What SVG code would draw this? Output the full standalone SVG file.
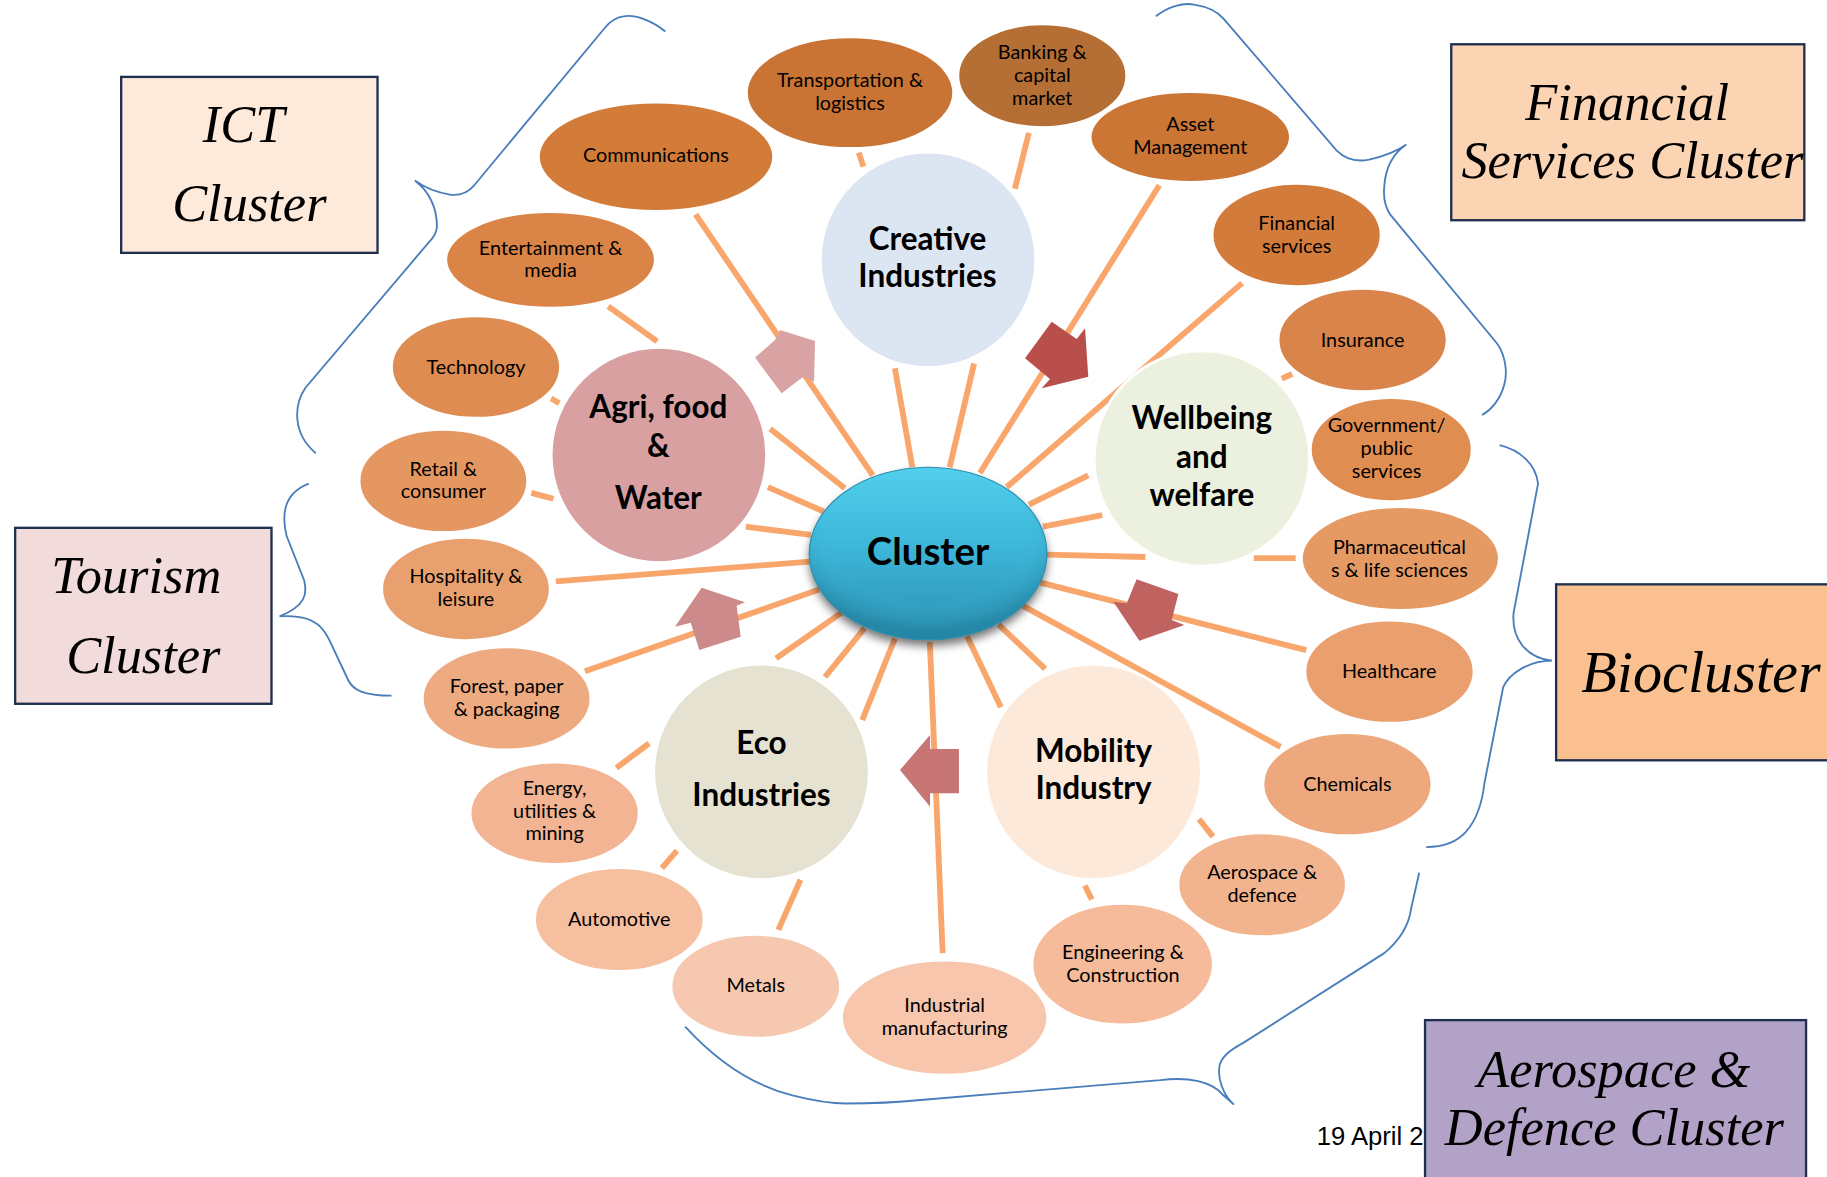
<svg xmlns="http://www.w3.org/2000/svg" width="1827" height="1177" viewBox="0 0 1827 1177">
<defs>
<style>
.box{stroke:#1F2F4F;stroke-width:2}
.bt{font-family:"Liberation Serif",serif;font-style:italic;font-size:45px;fill:#000;text-anchor:middle}
.n{stroke:#fff;stroke-width:2.5}
.t{font-family:Lato,"Liberation Sans",sans-serif;font-size:17px;fill:#000;text-anchor:middle}
.ct{font-family:Lato,"Liberation Sans",sans-serif;font-weight:bold;font-size:27px;fill:#000;text-anchor:middle}
.ln{stroke:#F9A66C;stroke-width:5;fill:none;stroke-linecap:butt}
.br{stroke:#4A7EBB;stroke-width:1.6;fill:none}
</style>
<linearGradient id="cg" x1="0" y1="0" x2="0" y2="1">
<stop offset="0" stop-color="#52CFEC"/>
<stop offset="0.45" stop-color="#3DB7DA"/>
<stop offset="1" stop-color="#2B90B1"/>
</linearGradient>
<radialGradient id="cg2" cx="0.5" cy="0.35" r="0.6">
<stop offset="0.7" stop-color="#3FB9DC" stop-opacity="0"/>
<stop offset="1" stop-color="#1E7A98" stop-opacity="0.5"/>
</radialGradient>
<filter id="sh" x="-20%" y="-20%" width="140%" height="150%">
<feGaussianBlur in="SourceAlpha" stdDeviation="4"/>
<feOffset dx="0" dy="5" result="b"/>
<feComponentTransfer><feFuncA type="linear" slope="0.55"/></feComponentTransfer>
<feMerge><feMergeNode/><feMergeNode in="SourceGraphic"/></feMerge>
</filter>
</defs>
<rect width="1827" height="1177" fill="#fff"/>
<g transform="scale(1.1652)">
<g id="connectors">
<line class="ln" x1="597" y1="184" x2="749" y2="408"/>
<line class="ln" x1="737" y1="131" x2="741" y2="143"/>
<line class="ln" x1="768" y1="316" x2="783" y2="401"/>
<line class="ln" x1="836" y1="312" x2="815" y2="401"/>
<line class="ln" x1="883" y1="114" x2="871" y2="162"/>
<line class="ln" x1="995" y1="159" x2="841" y2="406"/>
<line class="ln" x1="1066" y1="243" x2="864" y2="418"/>
<line class="ln" x1="1100" y1="325" x2="1109" y2="321"/>
<line class="ln" x1="883" y1="433" x2="934" y2="408"/>
<line class="ln" x1="895" y1="452" x2="946" y2="442"/>
<line class="ln" x1="898" y1="476" x2="983" y2="478"/>
<line class="ln" x1="1076" y1="479" x2="1112" y2="479"/>
<line class="ln" x1="893" y1="500" x2="1121" y2="558"/>
<line class="ln" x1="878" y1="520" x2="1099" y2="641"/>
<line class="ln" x1="857" y1="536" x2="897" y2="574"/>
<line class="ln" x1="830" y1="546" x2="859" y2="607"/>
<line class="ln" x1="798" y1="551" x2="809" y2="818"/>
<line class="ln" x1="1029" y1="703" x2="1041" y2="718"/>
<line class="ln" x1="931" y1="760" x2="937" y2="772"/>
<line class="ln" x1="768" y1="548" x2="740" y2="618"/>
<line class="ln" x1="742" y1="539" x2="708" y2="581"/>
<line class="ln" x1="722" y1="526" x2="666" y2="565"/>
<line class="ln" x1="703" y1="506" x2="502" y2="576"/>
<line class="ln" x1="695" y1="482" x2="477" y2="499"/>
<line class="ln" x1="696" y1="459" x2="640" y2="452"/>
<line class="ln" x1="707" y1="439" x2="659" y2="418"/>
<line class="ln" x1="725" y1="419" x2="661" y2="368"/>
<line class="ln" x1="522" y1="263" x2="564" y2="293"/>
<line class="ln" x1="473" y1="342" x2="480" y2="346"/>
<line class="ln" x1="456" y1="423" x2="475" y2="428"/>
<line class="ln" x1="557" y1="638" x2="529" y2="659"/>
<line class="ln" x1="581" y1="730" x2="568" y2="745"/>
<line class="ln" x1="687" y1="755" x2="668" y2="798"/>
</g>
<g id="braces">
<path class="br" d="M571,27 C560,18 545,12 535,14 C528,15 523,19 519,24 L407,159 C400,167 393,168 386,167 C373,165 363,160 356,155 C368,164 375,178 375,194 C375,200 372,204 368,208 L262,333 C252,348 251,372 271,389"/>
<path class="br" d="M992,14 C1002,6 1015,2 1025,4 C1037,6 1045,10 1050,16 L1147,129 C1155,137 1165,139 1175,137 C1188,134 1200,129 1207,124 C1195,132 1189,145 1188,160 C1187,170 1189,178 1193,184 L1285,295 C1292,305 1294,320 1291,330 C1288,342 1280,352 1272,356"/>
<path class="br" d="M1287,382 C1304,386 1318,398 1320,415 L1299,526 C1297,548 1310,565 1332,567 C1312,567 1295,578 1290,590 L1274,672 C1272,690 1266,705 1258,714 C1250,723 1238,727 1224,727"/>
<path class="br" d="M588,881 C610,905 640,930 680,940 C700,945 715,947 726,947 C750,947 770,946 790,944 L996,927 C1020,924 1040,928 1050,940 L1059,948 C1050,940 1044,925 1047,913 C1050,905 1058,900 1067,895 L1188,818 C1200,808 1209,795 1211,780 L1218,749"/>
<path class="br" d="M265,415 C252,420 244,430 244,445 C244,452 245,456 246,460 L261,498 C264,510 262,520 240,529 C255,528 268,531 275,538 C279,542 281,546 283,550 L299,584 C303,592 312,597 336,597"/>
</g>
<g id="n-communications"><ellipse class="n" cx="563" cy="134.5" rx="101" ry="47" fill="#D37C3A"/><text class="t" x="563" y="139">Communications</text></g>
<g id="n-transportation"><ellipse class="n" cx="729.5" cy="79.5" rx="89" ry="48" fill="#C97435"/><text class="t" x="729.5" y="75">Transportation &amp;</text><text class="t" x="729.5" y="94">logistics</text></g>
<g id="n-banking"><ellipse class="n" cx="894.5" cy="65" rx="72.5" ry="44.5" fill="#B56E34"/><text class="t" x="894.5" y="51">Banking &amp;</text><text class="t" x="894.5" y="70.5">capital</text><text class="t" x="894.5" y="90">market</text></g>
<g id="n-asset"><ellipse class="n" cx="1021.5" cy="117.5" rx="86" ry="39" fill="#CC7636"/><text class="t" x="1021.5" y="112.5">Asset</text><text class="t" x="1021.5" y="132">Management</text></g>
<g id="n-financial"><ellipse class="n" cx="1112.8" cy="201.7" rx="72.6" ry="44.3" fill="#D37B3A"/><text class="t" x="1112.8" y="197.5">Financial</text><text class="t" x="1112.8" y="217">services</text></g>
<g id="n-insurance"><ellipse class="n" cx="1169.4" cy="291.8" rx="72.6" ry="44.3" fill="#D9844A"/><text class="t" x="1169.4" y="297.5">Insurance</text></g>
<g id="n-government"><ellipse class="n" cx="1194" cy="385.8" rx="69.5" ry="44.7" fill="#E08D52"/><text class="t" x="1190" y="370.5">Government/</text><text class="t" x="1190" y="390.5">public</text><text class="t" x="1190" y="410.5">services</text></g>
<g id="n-pharma"><ellipse class="n" cx="1201.8" cy="479.4" rx="85" ry="44.6" fill="#E59A64"/><text class="t" x="1201" y="475.5">Pharmaceutical</text><text class="t" x="1201" y="495">s &amp; life sciences</text></g>
<g id="n-healthcare"><ellipse class="n" cx="1192.5" cy="576.4" rx="72.6" ry="44.3" fill="#EA9F6E"/><text class="t" x="1192.3" y="581.6">Healthcare</text></g>
<g id="n-chemicals"><ellipse class="n" cx="1156.4" cy="673" rx="72.6" ry="44.3" fill="#EDA87E"/><text class="t" x="1156.4" y="678.6">Chemicals</text></g>
<g id="n-aerospace"><ellipse class="n" cx="1083.2" cy="759.3" rx="72.3" ry="44.6" fill="#F2B48E"/><text class="t" x="1083.2" y="754.4">Aerospace &amp;</text><text class="t" x="1083.2" y="773.8">defence</text></g>
<g id="n-industrial"><ellipse class="n" cx="810.7" cy="873.3" rx="88.6" ry="49.4" fill="#F7C6AC"/><text class="t" x="810.7" y="868.2">Industrial</text><text class="t" x="810.7" y="888.3">manufacturing</text></g>
<g id="n-engineering"><ellipse class="n" cx="963.5" cy="827.5" rx="77.9" ry="52.2" fill="#F5BB9A"/><text class="t" x="963.7" y="823">Engineering &amp;</text><text class="t" x="963.7" y="842.5">Construction</text></g>
<g id="n-automotive"><ellipse class="n" cx="531.5" cy="789.2" rx="72.8" ry="44.6" fill="#F6BFA0"/><text class="t" x="531.5" y="794.4">Automotive</text></g>
<g id="n-metals"><ellipse class="n" cx="648.6" cy="846.5" rx="72.8" ry="44.6" fill="#F7C8B0"/><text class="t" x="648.6" y="851.6">Metals</text></g>
<g id="n-energy"><ellipse class="n" cx="476" cy="698" rx="72.6" ry="44" fill="#F2B492"/><text class="t" x="476" y="682.3">Energy,</text><text class="t" x="476" y="701.7">utilities &amp;</text><text class="t" x="476" y="721">mining</text></g>
<g id="n-forest"><ellipse class="n" cx="434.8" cy="599.4" rx="72.4" ry="44.3" fill="#EEAA80"/><text class="t" x="434.8" y="595">Forest, paper</text><text class="t" x="434.8" y="614.5">&amp; packaging</text></g>
<g id="n-hospitality"><ellipse class="n" cx="399.9" cy="505.5" rx="72.4" ry="44.3" fill="#E9A06F"/><text class="t" x="399.9" y="500">Hospitality &amp;</text><text class="t" x="399.9" y="520.5">leisure</text></g>
<g id="n-retail"><ellipse class="n" cx="380.5" cy="412.7" rx="72.4" ry="44.3" fill="#E59762"/><text class="t" x="380.5" y="408.5">Retail &amp;</text><text class="t" x="380.5" y="427.7">consumer</text></g>
<g id="n-technology"><ellipse class="n" cx="408.5" cy="315" rx="72.6" ry="44" fill="#DE8C52"/><text class="t" x="408.5" y="321">Technology</text></g>
<g id="n-entertainment"><ellipse class="n" cx="472.5" cy="223" rx="90" ry="41.5" fill="#DA8547"/><text class="t" x="472.5" y="219">Entertainment &amp;</text><text class="t" x="472.5" y="238">media</text></g>
<g id="n-creative"><circle class="n" cx="796.5" cy="223" r="92.5" fill="#DCE6F2"/><text class="ct" x="796" y="214.6">Creative</text><text class="ct" x="796" y="246.6">Industries</text></g>
<g id="n-agri"><circle class="n" cx="565.5" cy="390.5" r="92.5" fill="#D8A0A0"/><text class="ct" x="565" y="359">Agri, food</text><text class="ct" x="565" y="392">&amp;</text><text class="ct" x="565" y="437">Water</text></g>
<g id="n-wellbeing"><circle class="n" cx="1031.5" cy="393.5" r="92.5" fill="#EBF1DE"/><text class="ct" x="1031.5" y="368.5">Wellbeing</text><text class="ct" x="1031.5" y="402">and</text><text class="ct" x="1031.5" y="434.2">welfare</text></g>
<g id="n-eco"><circle class="n" cx="653.5" cy="662.5" r="92.5" fill="#E5E2D1"/><text class="ct" x="653.5" y="647">Eco</text><text class="ct" x="653.5" y="691.7">Industries</text></g>
<g id="n-mobility"><circle class="n" cx="938.5" cy="662.5" r="92.5" fill="#FDE9D9"/><text class="ct" x="938.5" y="653.7">Mobility</text><text class="ct" x="938.5" y="685.5">Industry</text></g>
<g id="arrows">
<polygon points="669.4,283.2 699.5,292.7 698.6,327.6 689.4,323.3 670.8,337.6 648,306.9 665.1,291.8" fill="#D9A3A3"/>
<polygon points="879.7,307.5 902.6,276.1 924,290.9 931.2,281.8 934,323.3 894,333.3 901.1,325.3" fill="#B94F4B"/>
<polygon points="602.2,504.4 639.4,516.9 632.2,519.8 635.7,546.4 600.2,557.8 592.8,534.4 579.3,537.8" fill="#CD8A8A"/>
<polygon points="772.4,660.8 798.2,630.8 798.2,642.8 823,642.8 823,680.8 798.2,680.8 798.2,692.3" fill="#C87575"/>
<polygon points="975.5,497.2 1011.3,509.8 1005.6,532.1 1016.4,536.4 977.8,549.8 955.5,516.4 967,517.8" fill="#C0625F"/>
</g>
<g id="n-cluster">
<ellipse cx="796.5" cy="475" rx="102" ry="74" fill="url(#cg)" filter="url(#sh)"/>
<ellipse cx="796.5" cy="475" rx="102" ry="74" fill="url(#cg2)" stroke="#2D8EAE" stroke-width="1"/>
<text x="796.5" y="485" font-family="Lato,'Liberation Sans',sans-serif" font-weight="bold" font-size="33" text-anchor="middle" fill="#000">Cluster</text>
</g>
<g id="ict">
<rect class="box" x="104" y="66" width="220" height="151" fill="#FDEADA"/>
<text class="bt" x="209" y="121.5">ICT</text>
<text class="bt" x="214" y="190">Cluster</text>
</g>
<g id="financial">
<rect class="box" x="1245.5" y="38" width="303" height="151" fill="#FBD4B4"/>
<text class="bt" x="1396.5" y="103">Financial</text>
<text class="bt" x="1401" y="153">Services Cluster</text>
</g>
<g id="tourism">
<rect class="box" x="13" y="453" width="220" height="151" fill="#F2DCDB"/>
<text class="bt" x="117" y="508.5">Tourism</text>
<text class="bt" x="123" y="578">Cluster</text>
</g>
<g id="bio">
<rect class="box" x="1335.5" y="501.5" width="260" height="151" fill="#FAC090"/>
<text class="bt" x="1357" y="593.5" style="text-anchor:start;font-size:50px">Biocluster</text>
</g>
<text x="1130" y="982.7" font-family="'Liberation Sans',Arial,sans-serif" font-size="22" fill="#000">19 April 2</text>
<g id="aero">
<rect class="box" x="1223" y="875.5" width="327" height="160" fill="#B3A2C7"/>
<text class="bt" x="1385" y="932.5">Aerospace &amp;</text>
<text class="bt" x="1385.5" y="982.7">Defence Cluster</text>
</g>
</g>
</svg>
